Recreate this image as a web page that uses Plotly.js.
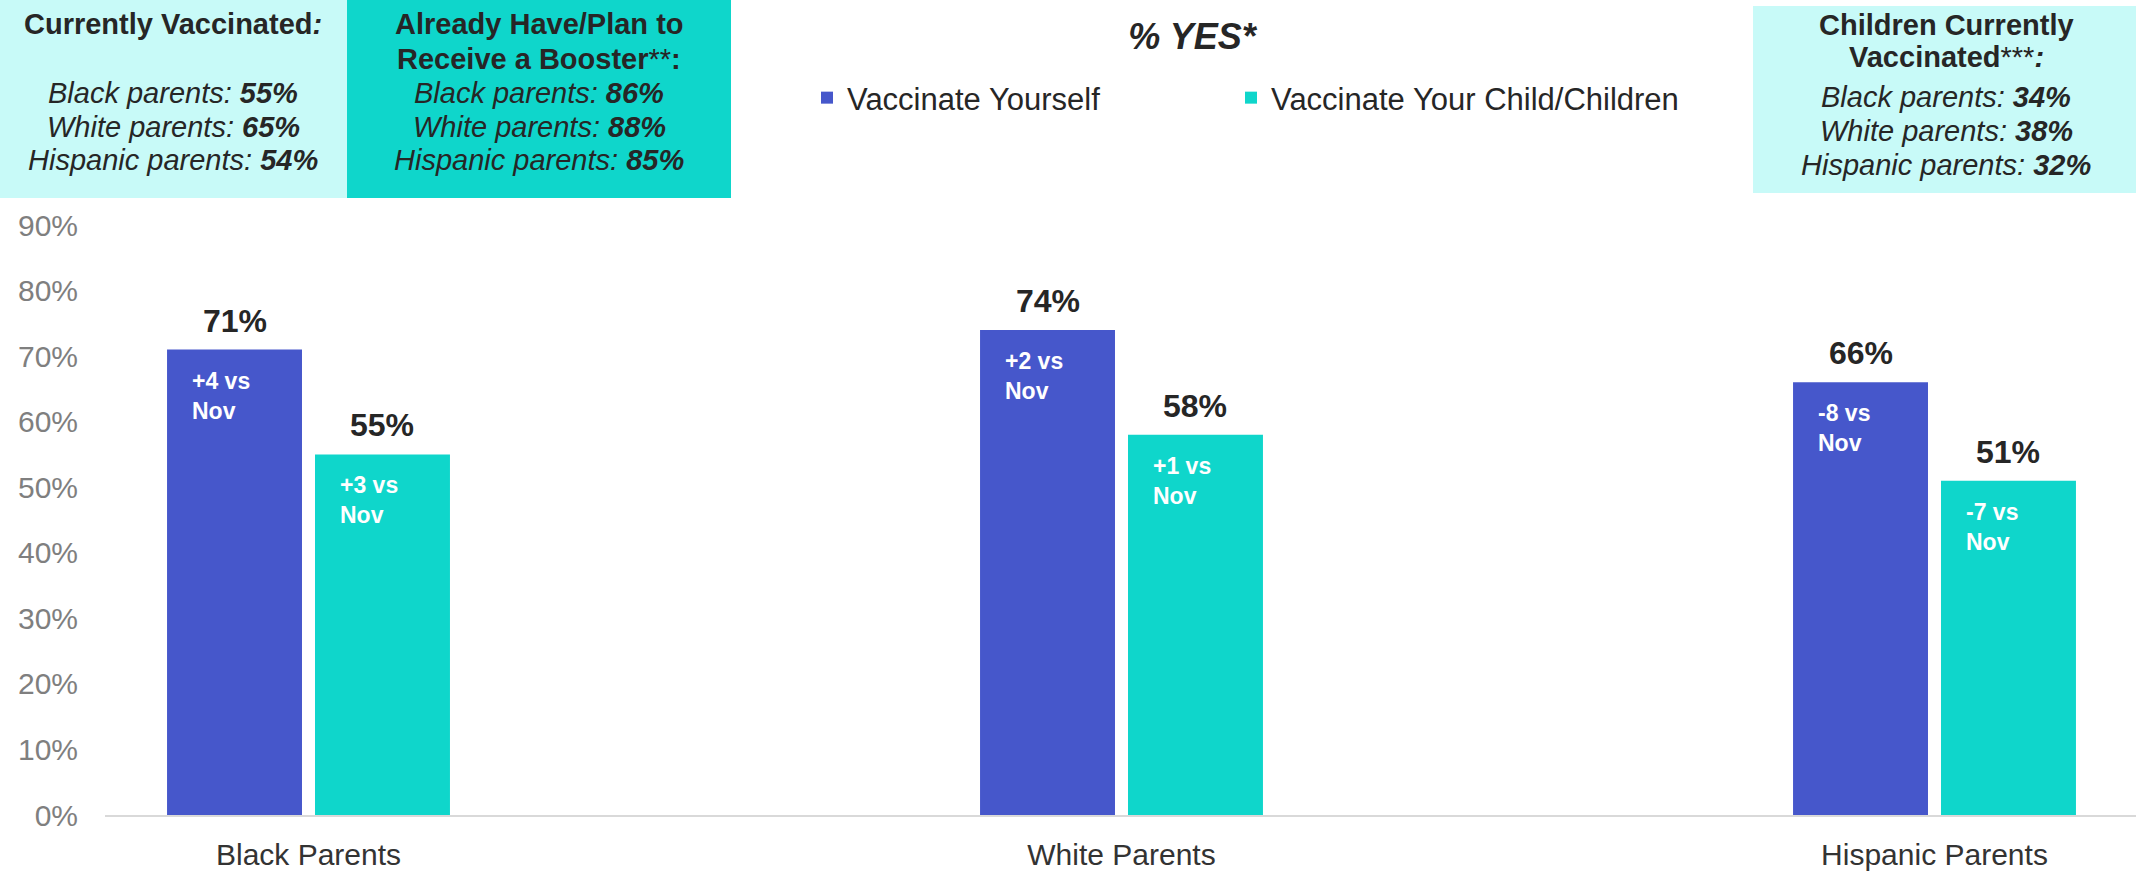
<!DOCTYPE html>
<html>
<head>
<meta charset="utf-8">
<script src="https://cdn.plot.ly/plotly-3.0.1.min.js"></script>
<style>html,body{margin:0;padding:0;background:#fff;}#chart{width:2136px;height:875px;}</style>
</head>
<body>
<div id="chart"></div>
<script>
// ---- data ----
const categories = ['Black Parents', 'White Parents', 'Hispanic Parents'];
const seriesNames = ['Vaccinate Yourself', 'Vaccinate Your Child/Children'];
const yourself = [71, 74, 66];
const child = [55, 58, 51];
const yourselfChange = ['+4', '+2', '-8'];
const childChange = ['+3', '+1', '-7'];
const groupNames = ['Black parents', 'White parents', 'Hispanic parents'];
const currentlyVaccinated = [55, 65, 54];
const booster = [86, 88, 85];
const childrenVaccinated = [34, 38, 32];
const yTickVals = [0, 10, 20, 30, 40, 50, 60, 70, 80, 90];
const yTickText = ['0%', '10%', '20%', '30%', '40%', '50%', '60%', '70%', '80%', '90%'];

// ---- style ----
const FONT = 'Liberation Sans, Arial, sans-serif';
const BLUE = '#4657CB';
const TEAL = '#0FD6CB';
const LIGHT = '#C8FAF8';
const DARK = '#262626';

const W = 2136, H = 875;
const M = {l: 105, r: 0, t: 225, b: 60};
const PW = W - M.l - M.r, PH = H - M.t - M.b;
const px2x = px => (px - M.l) / PW;
const px2y = py => (M.t + PH - py) / PH;

const bargap = 0.636, bargroupgap = 0.088;
const groupW = 1 - bargap, slot = groupW / 2;
const barLeft = (i, k) => i - groupW / 2 + k * slot + slot * bargroupgap / 2;
const barCenter = (i, k) => i - groupW / 2 + k * slot + slot / 2;

const xs = categories.map((c, i) => i);

const traces = [
  {type: 'bar', name: seriesNames[0], x: xs, y: yourself, marker: {color: BLUE}, hoverinfo: 'none', legend: 'legend'},
  {type: 'bar', name: seriesNames[1], x: xs, y: child, marker: {color: TEAL}, hoverinfo: 'none', legend: 'legend2'}
];

const annotations = [];
// value labels and change labels
[[yourself, yourselfChange], [child, childChange]].forEach(([vals, chg], k) => {
  vals.forEach((v, i) => {
    annotations.push({
      xref: 'x', yref: 'y', x: barCenter(i, k), y: v, yanchor: 'bottom', xanchor: 'center',
      yshift: 9, showarrow: false, text: '<b>' + v + '%</b>',
      font: {family: FONT, size: 32, color: DARK}
    });
    annotations.push({
      xref: 'x', yref: 'y', x: barLeft(i, k), y: v, xanchor: 'left', yanchor: 'top',
      xshift: 23, yshift: -16, showarrow: false, align: 'left',
      text: '<b>' + chg[i] + ' vs<br>Nov</b>',
      font: {family: FONT, size: 23, color: '#ffffff'}
    });
  });
});

// top info boxes
function boxLines(title1, title2, values, cx, ys) {
  const lines = [title1, title2].concat(groupNames.map((g, i) => '<i>' + g + ': </i><b><i>' + values[i] + '%</i></b>'));
  lines.forEach((t, j) => {
    if (!t) return;
    annotations.push({
      xref: 'paper', yref: 'paper', x: px2x(cx), y: px2y(ys[j]),
      xanchor: 'center', yanchor: 'middle', showarrow: false, text: t,
      font: {family: FONT, size: 29, color: DARK}
    });
  });
}
boxLines('<b>Currently Vaccinated</b><b><i>:</i></b>', '', currentlyVaccinated, 173, [24, 58, 93, 127, 160]);
boxLines('<b>Already Have/Plan to</b>', '<b>Receive a Booster</b>**<b>:</b>', booster, 539, [24, 59, 93, 127, 160]);
boxLines('<b>Children Currently</b>', '<b>Vaccinated</b>***<b><i>:</i></b>', childrenVaccinated, 1946, [25, 57, 97, 131, 165]);

const shapes = [
  {type: 'rect', xref: 'paper', yref: 'paper', x0: px2x(0), x1: px2x(347), y0: px2y(198), y1: px2y(0), fillcolor: LIGHT, line: {width: 0}, layer: 'below'},
  {type: 'rect', xref: 'paper', yref: 'paper', x0: px2x(347), x1: px2x(731), y0: px2y(198), y1: px2y(0), fillcolor: TEAL, line: {width: 0}, layer: 'below'},
  {type: 'rect', xref: 'paper', yref: 'paper', x0: px2x(1753), x1: px2x(2136), y0: px2y(193), y1: px2y(6), fillcolor: LIGHT, line: {width: 0}, layer: 'below'}
];

// x range: category centres 813 px apart, first centre at 308.5 px
const unitPx = 813, firstCentre = 308.5;

const legendBase = {
  orientation: 'h', xanchor: 'left', y: px2y(98), yanchor: 'middle',
  font: {family: FONT, size: 31, color: DARK}, bgcolor: 'rgba(0,0,0,0)'
};

const layout = {
  width: W, height: H,
  margin: M,
  paper_bgcolor: '#ffffff', plot_bgcolor: '#ffffff',
  barmode: 'group', bargap: bargap, bargroupgap: bargroupgap,
  font: {family: FONT, color: DARK},
  title: {
    text: '<b><i>% YES*</i></b>', font: {family: FONT, size: 36, color: DARK},
    x: 1192 / W, xref: 'container', xanchor: 'center', y: 1 - 36 / H, yref: 'container', yanchor: 'middle'
  },
  showlegend: true,
  legend: Object.assign({}, legendBase, {x: px2x(807)}),
  legend2: Object.assign({}, legendBase, {x: px2x(1231)}),
  xaxis: {
    type: 'linear', range: [(M.l - firstCentre) / unitPx, (W - M.r - firstCentre) / unitPx],
    tickvals: xs, ticktext: categories, showgrid: false, zeroline: false,
    showline: true, linecolor: '#D9D9D9', linewidth: 2, ticks: '',
    tickfont: {family: FONT, size: 30, color: '#333333'}, ticklabelstandoff: 12, fixedrange: true
  },
  yaxis: {
    range: [0, 90], tickvals: yTickVals, ticktext: yTickText, showgrid: false, zeroline: false,
    showline: false, ticks: '', tickfont: {family: FONT, size: 30, color: '#7F7F7F'},
    ticklabelstandoff: 26, fixedrange: true
  },
  shapes: shapes,
  annotations: annotations,
  hovermode: false
};

Plotly.newPlot('chart', traces, layout, {displayModeBar: false, staticPlot: true});
</script>
</body>
</html>
